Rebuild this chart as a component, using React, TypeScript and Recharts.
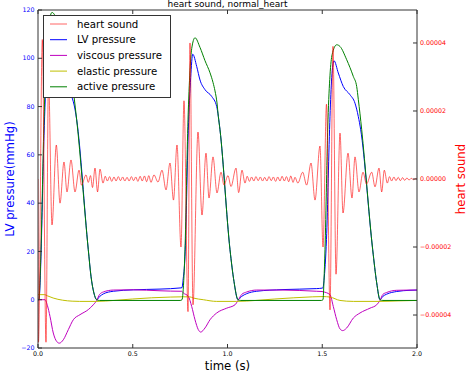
import React from 'react';
import { LineChart, Line, XAxis, YAxis, ReferenceLine, Legend } from 'recharts';

// ---------------- data ----------------
// time (s) ticks
const xTicks = [0, 0.5, 1.0, 1.5, 2.0];
// LV pressure axis ticks (mmHg)
const leftTicks = [-20, 0, 20, 40, 60, 80, 100, 120];
// heart sound axis ticks, in units of 1e-5
const rightTicks = [-4, -2, 0, 2, 4];

const seriesNames = ['heart sound', 'LV pressure', 'viscous pressure', 'elastic pressure', 'active pressure'];

// heart sound, [time s, value ×1e-5]
const heartSoundPts: [number, number][] = [
  [0, 0], [0.0026, -4.8], [0.0227, 4.1], [0.0422, -4.8], [0.0554, 3.0], [0.0739, -1.35], [0.0966, 1.0],
  [0.1161, -0.71], [0.1372, 0.5], [0.153, -0.38], [0.1741, 0.56], [0.1953, -0.38], [0.2164, 0.26],
  [0.2296, -0.18], [0.2533, 0.12], [0.2654, -0.1], [0.2771, 0.1], [0.2876, -0.25], [0.3008, 0.32],
  [0.3143, -0.38], [0.3272, 0.29], [0.343, -0.12],
  [0.355, 0.08], [0.366, -0.06], [0.378, 0.07], [0.389, -0.07], [0.401, 0.06], [0.412, -0.06],
  [0.424, 0.07], [0.435, -0.05], [0.447, 0.06], [0.458, -0.06], [0.47, 0.05], [0.481, -0.06],
  [0.493, 0.07], [0.504, -0.05], [0.516, 0.06], [0.527, -0.07], [0.539, 0.08], [0.55, -0.06],
  [0.562, 0.09], [0.573, -0.08], [0.585, 0.1], [0.596, -0.1],
  [0.6121, 0.12], [0.6332, -0.09], [0.6544, 0.26], [0.6755, -0.32], [0.6966, 0.47], [0.715, -0.62],
  [0.7335, 1.0], [0.7546, -2.0], [0.7704, 2.3], [0.7916, -3.9], [0.8021, 4.0], [0.8179, -3.7],
  [0.8443, 1.38], [0.8654, -1.06], [0.8865, 0.76], [0.9024, -0.56], [0.9235, 0.65], [0.9446, -0.41],
  [0.9657, 0.2], [0.9815, -0.18], [1.0026, 0.1], [1.0185, -0.22], [1.0449, 0.32], [1.0589, -0.4],
  [1.0765, 0.26], [1.0923, -0.12],
  [1.104, 0.08], [1.116, -0.07], [1.127, 0.06], [1.139, -0.06], [1.15, 0.07], [1.162, -0.05],
  [1.173, 0.06], [1.185, -0.06], [1.196, 0.05], [1.208, -0.06], [1.219, 0.07], [1.231, -0.05],
  [1.242, 0.06], [1.254, -0.07], [1.265, 0.06], [1.277, -0.06], [1.288, 0.08], [1.3, -0.06],
  [1.311, 0.07], [1.323, -0.08], [1.334, 0.09], [1.346, -0.1],
  [1.3562, 0.05], [1.3711, -0.12], [1.3966, 0.2], [1.4177, -0.18], [1.4407, 0.47], [1.4618, -0.62],
  [1.4881, 0.97], [1.504, -2.0], [1.5224, 2.2], [1.5409, -3.85], [1.5567, 3.9], [1.5726, -2.8],
  [1.5937, 1.35], [1.6095, -1.0], [1.6359, 0.76], [1.657, -0.56], [1.6728, 0.65], [1.6939, -0.38],
  [1.715, 0.2], [1.7335, -0.15], [1.761, 0.2], [1.7784, -0.23], [1.7995, 0.32], [1.8137, -0.38],
  [1.8274, 0.26], [1.8433, -0.12],
  [1.855, 0.07], [1.866, -0.06], [1.878, 0.06], [1.889, -0.05], [1.901, 0.05], [1.912, -0.05],
  [1.924, 0.04], [1.935, -0.04], [1.947, 0.03], [1.958, -0.03], [1.97, 0.02], [1.981, -0.02],
  [1.993, 0.01], [2.0, 0],
];

// LV pressure (mmHg)
const lvPressurePts: [number, number][] = [
  [0, 0], [0.005, 0], [0.0106, 6], [0.0158, 18], [0.0317, 68], [0.045, 95], [0.063, 110], [0.08, 106],
  [0.1, 99], [0.13, 92], [0.155, 88], [0.1777, 84.2], [0.195, 79], [0.2042, 74.5], [0.2654, 20.7],
  [0.28, 9.5], [0.295, 2.8], [0.3098, 0], [0.325, 1.3], [0.3446, 2.4], [0.3974, 3.5], [0.5029, 4.1],
  [0.6438, 4.4], [0.7546, 4.9], [0.7599, 5], [0.7652, 8], [0.7757, 18], [0.7931, 70], [0.8058, 92],
  [0.8164, 101.7], [0.8375, 96.6], [0.8549, 91], [0.8813, 87], [0.9166, 84.2], [0.943, 80],
  [0.9515, 76], [0.9604, 70.4], [1.0132, 20.7], [1.0343, 7.5], [1.0554, 0], [1.075, 1.4],
  [1.1013, 2.5], [1.1541, 3.5], [1.2929, 4.2], [1.4707, 4.6], [1.4987, 4.8], [1.504, 5],
  [1.5092, 8], [1.5224, 25], [1.5409, 76], [1.55, 92], [1.562, 99], [1.5847, 93.9], [1.6111, 88.3],
  [1.6464, 84.9], [1.6728, 81.4], [1.6902, 75.9], [1.7029, 70.4], [1.7662, 20.7], [1.7873, 7],
  [1.8047, 0], [1.82, 1.4], [1.8401, 2.3], [1.8929, 3.4], [1.9631, 3.9], [2.0, 4.0],
];

// viscous pressure (mmHg)
const viscousPts: [number, number][] = [
  [0, 0], [0.0369, 0], [0.05, -2.5], [0.0633, -6.9], [0.0807, -13.8], [0.0987, -17.3], [0.1124, -18],
  [0.1335, -16.6], [0.16, -12.4], [0.1863, -8.3], [0.2216, -6.2], [0.2654, -4.1], [0.2918, -2.1],
  [0.3098, -0.3], [0.325, 2.2], [0.3446, 3.2], [0.3974, 4.0], [0.5029, 4.1], [0.6438, 3.7],
  [0.7546, 3.5], [0.7583, 3.5], [0.7668, 2.8], [0.7931, 1.4], [0.8111, -2.8], [0.8285, -8.3],
  [0.8459, -12.4], [0.8586, -13.4], [0.8813, -11.7], [0.9077, -8.3], [0.943, -5.5], [0.9958, -3.5],
  [1.0396, -2.1], [1.0554, -0.3], [1.075, 2.2], [1.1013, 3.2], [1.1541, 4.0], [1.2929, 4.0],
  [1.4707, 3.5], [1.4987, 3.4], [1.504, 3.3], [1.5409, 2.1], [1.5583, -2.8], [1.5763, -8.3],
  [1.5937, -12.1], [1.6079, -12.8], [1.629, -11.7], [1.6639, -7.6], [1.6992, -5.5], [1.752, -3.5],
  [1.7873, -2.1], [1.8047, -0.3], [1.82, 2.2], [1.8401, 3.0], [1.8929, 3.9], [1.9631, 4.0], [2.0, 4.0],
];

// elastic pressure (mmHg)
const elasticPts: [number, number][] = [
  [0, 2.1], [0.035, 2.1], [0.05, 1.6], [0.08, 0.7], [0.13, -0.2], [0.18, -0.6], [0.22, -0.7],
  [0.31, -0.7], [0.4, -0.3], [0.5, 0.3], [0.6, 0.8], [0.7, 1.1], [0.7599, 1.2], [0.8, 1.2],
  [0.8195, 0.7], [0.8723, 0], [0.943, -0.7], [1.0485, -0.7], [1.15, -0.3], [1.25, 0.3], [1.35, 0.8],
  [1.45, 1.2], [1.504, 1.3], [1.5409, 1.1], [1.5937, -0.3], [1.6639, -0.7], [1.8047, -0.7],
  [1.9, -0.5], [2.0, -0.3],
];

// active pressure (mmHg)
const activePts: [number, number][] = [
  [0, 0], [0.005, 0], [0.0106, 8], [0.0158, 20.7], [0.0317, 74.5], [0.042, 97], [0.052, 110],
  [0.074, 119], [0.1, 116], [0.13, 109], [0.155, 101], [0.175, 94], [0.19, 84.2], [0.2042, 74.5],
  [0.2654, 20.7], [0.28, 9.5], [0.295, 2.8], [0.3098, 0], [0.325, -0.3], [0.75, -0.3], [0.7599, 0],
  [0.7704, 10], [0.7757, 20.7], [0.7916, 74.5], [0.8021, 95], [0.8111, 104], [0.8285, 108.5],
  [0.8549, 104.5], [0.8813, 99], [0.9077, 94], [0.9235, 90], [0.934, 86.5], [0.9446, 81.5],
  [0.9515, 76], [0.9604, 70.4], [1.0132, 20.7], [1.0343, 7.5], [1.0554, 0], [1.07, -0.3],
  [1.495, -0.3], [1.504, 0], [1.5092, 8], [1.5145, 20.7], [1.5303, 74.5], [1.5409, 93],
  [1.552, 101.5], [1.5763, 105.6], [1.5937, 104.9], [1.629, 99.4], [1.6639, 92.5], [1.6818, 88.3],
  [1.6902, 83], [1.6992, 77], [1.7082, 70.4], [1.7662, 20.7], [1.7873, 7], [1.8047, 0], [1.82, -0.3],
  [2.0, -0.3],
];

// ---------------- styling ----------------
const W = 474;
const H = 379;
const FONT = '"DejaVu Sans", "Bitstream Vera Sans", sans-serif';
const BLUE = '#0000ff';
const RED = '#ff0000';
const MAGENTA = '#bf00bf';
const YELLOW = '#bfbf00';
const GREEN = '#008000';
const SPINE = '#333333';
const PLOT_H = 338;

const rows = (pts: [number, number][]) => pts.map(([t, v]) => ({ t, v }));

const minus = (s: string) => s.replace('-', '\u2212');

const LeftTick = (props: any) => {
  const { x, y, payload } = props;
  return (
    <g>
      <line x1={x} x2={x + 4} y1={y} y2={y} stroke={SPINE} strokeWidth={1} />
      <text x={x - 3.5} y={y} dy="0.35em" textAnchor="end" fontSize={6.3} fontFamily={FONT} fill={BLUE}>
        {minus(String(payload.value))}
      </text>
    </g>
  );
};

const RightTick = (props: any) => {
  const { x, y, payload } = props;
  return (
    <g>
      <line x1={x - 4} x2={x} y1={y} y2={y} stroke={SPINE} strokeWidth={1} />
      <text x={x + 3} y={y} dy="0.35em" textAnchor="start" fontSize={6.3} fontFamily={FONT} fill={RED}>
        {minus((payload.value * 1e-5).toFixed(5))}
      </text>
    </g>
  );
};

const BottomTick = (props: any) => {
  const { x, y, payload } = props;
  return (
    <g>
      <line x1={x} x2={x} y1={y - 4} y2={y} stroke={SPINE} strokeWidth={1} />
      <line x1={x} x2={x} y1={y - PLOT_H} y2={y - PLOT_H + 4} stroke={SPINE} strokeWidth={1} />
      <text x={x} y={y + 7.5} textAnchor="middle" fontSize={6.3} fontFamily={FONT} fill="#000">
        {Number(payload.value).toFixed(1)}
      </text>
    </g>
  );
};

const legendColors = [RED, BLUE, MAGENTA, YELLOW, GREEN];
const legendOpacity = [0.6, 1, 1, 1, 1];

const LegendBox = () => (
  <svg width={128} height={83} style={{ display: 'block' }}>
    <rect x={0.5} y={0.5} width={127} height={82} fill="#ffffff" stroke={SPINE} strokeWidth={1} />
    {seriesNames.map((name, i) => {
      const cy = 9 + i * 15.7;
      return (
        <g key={name}>
          <line x1={7} x2={24} y1={cy} y2={cy} stroke={legendColors[i]} strokeOpacity={legendOpacity[i]} strokeWidth={1} />
          <text x={34} y={cy} dy="0.35em" fontSize={10.2} fontFamily={FONT} fill="#000">
            {name}
          </text>
        </g>
      );
    })}
  </svg>
);

export default function App() {
  return (
    <div style={{ position: 'absolute', left: 0, top: 0, width: W, height: H, background: '#fff' }}>
      <LineChart width={W} height={H} margin={{ top: 10, right: 0, bottom: 0, left: 0 }}>
        <XAxis
          dataKey="t"
          type="number"
          domain={[0, 2]}
          ticks={xTicks}
          allowDataOverflow
          height={31}
          tickSize={0}
          tickMargin={0}
          tickLine={false}
          interval={0}
          axisLine={{ stroke: SPINE, strokeWidth: 1 }}
          tick={<BottomTick />}
        />
        <YAxis
          yAxisId="left"
          type="number"
          domain={[-20, 120]}
          ticks={leftTicks}
          allowDataOverflow
          width={38}
          tickSize={0}
          tickMargin={0}
          tickLine={false}
          interval={0}
          axisLine={{ stroke: SPINE, strokeWidth: 1 }}
          tick={<LeftTick />}
        />
        <YAxis
          yAxisId="right"
          orientation="right"
          type="number"
          domain={[-4.97, 4.97]}
          ticks={rightTicks}
          allowDataOverflow
          width={57}
          tickSize={0}
          tickMargin={0}
          tickLine={false}
          interval={0}
          axisLine={{ stroke: SPINE, strokeWidth: 1 }}
          tick={<RightTick />}
        />
        <ReferenceLine yAxisId="left" y={120} stroke={SPINE} strokeWidth={1} />
        <Line yAxisId="left" data={rows(lvPressurePts)} dataKey="v" name={seriesNames[1]} type="monotone" stroke={BLUE} strokeWidth={1} dot={false} isAnimationActive={false} />
        <Line yAxisId="left" data={rows(viscousPts)} dataKey="v" name={seriesNames[2]} type="monotone" stroke={MAGENTA} strokeWidth={1} dot={false} isAnimationActive={false} />
        <Line yAxisId="left" data={rows(elasticPts)} dataKey="v" name={seriesNames[3]} type="monotone" stroke={YELLOW} strokeWidth={1} dot={false} isAnimationActive={false} />
        <Line yAxisId="left" data={rows(activePts)} dataKey="v" name={seriesNames[4]} type="monotone" stroke={GREEN} strokeWidth={1} dot={false} isAnimationActive={false} />
        <Line yAxisId="right" data={rows(heartSoundPts)} dataKey="v" name={seriesNames[0]} type="monotone" stroke={RED} strokeOpacity={0.6} strokeWidth={1} dot={false} isAnimationActive={false} />
        <Legend
          layout="horizontal"
          verticalAlign="middle"
          align="center"
          content={<LegendBox />}
          wrapperStyle={{ left: 43, top: 15, width: 128, height: 83 }}
        />
      </LineChart>
      <svg width={W} height={H} style={{ position: 'absolute', left: 0, top: 0, pointerEvents: 'none' }}>
        <text x={227.5} y={6.5} textAnchor="middle" fontSize={9} fontFamily={FONT} fill="#000">
          heart sound, normal_heart
        </text>
        <text transform="rotate(-90)" x={-179} y={14} textAnchor="middle" fontSize={11.7} fontFamily={FONT} fill={BLUE}>
          LV pressure(mmHg)
        </text>
        <text transform="rotate(-90)" x={-179} y={465} textAnchor="middle" fontSize={11.7} fontFamily={FONT} fill={RED}>
          heart sound
        </text>
        <text x={227.5} y={369.5} textAnchor="middle" fontSize={11.7} fontFamily={FONT} fill="#000">
          time (s)
        </text>
      </svg>
    </div>
  );
}
